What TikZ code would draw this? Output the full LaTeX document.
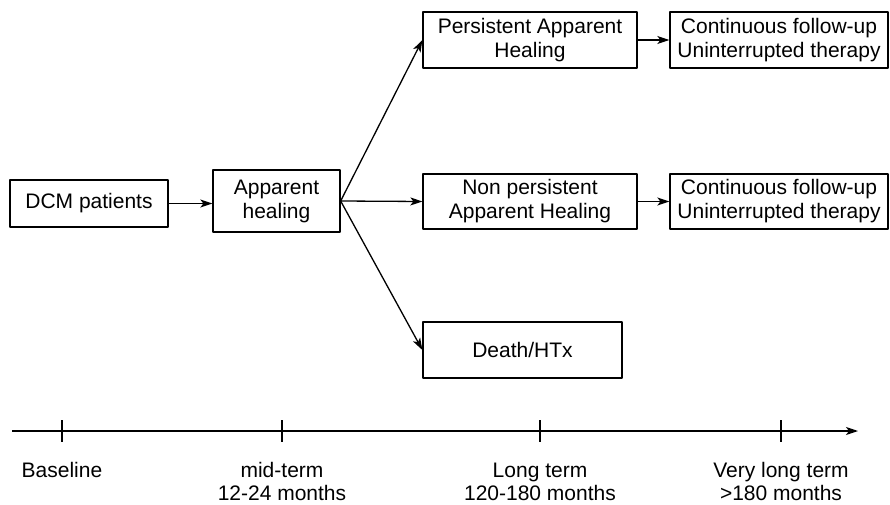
\documentclass[tikz,border=0pt]{standalone}
\usepackage{fontspec}
\setmainfont{Liberation Sans}
\usetikzlibrary{arrows.meta}
\begin{document}
\begin{tikzpicture}[x=1pt, y=-1pt, line width=1.3pt, line join=round, >={Stealth[length=12pt,width=8pt,inset=3pt]},
	font=\fontsize{21}{24}\selectfont,
	box/.style={draw, inner sep=0pt, align=center},
	tick/.style={line width=1.1pt}]
	\useasboundingbox (0,0) rectangle (890,505);
	\path
	(12,431) coordinate (A)
	(858,431) coordinate (B)
	;
	% boxes
	\node[box, minimum width=158, minimum height=47] (dcm) at (89,203.5) {DCM patients};
	\node[box, minimum width=127, minimum height=62] (heal) at (276.5,201) {Apparent\\healing};
	\node[box, minimum width=214, minimum height=56] (pers) at (530,40) {Persistent Apparent\\Healing};
	\node[box, minimum width=214, minimum height=55] (nonp) at (530,201.5) {Non persistent\\Apparent Healing};
	\node[box, minimum width=199, minimum height=56] (death) at (522.5,350) {Death/HTx};
	\node[box, minimum width=218, minimum height=56] (cont1) at (779,40) {Continuous follow-up\\Uninterrupted therapy};
	\node[box, minimum width=218, minimum height=55] (cont2) at (779,201.5) {Continuous follow-up\\Uninterrupted therapy};
	% arrows
	\draw[->] (dcm.east) -- (dcm.east -| heal.west);
	\draw[->] (heal.east) -- (pers.west);
	\draw[->] (heal.east) -- (nonp.west);
	\draw[->] (heal.east) -- (death.west);
	\draw[->] (pers.east) -- (cont1.west);
	\draw[->] (nonp.east) -- (cont2.west);
	% time axis
	\draw[->] (A) -- (B);
	\foreach \x/\name/\lbl in {62/base/Baseline\\\phantom{0}, 282/mid/mid-term\\12-24 months, 540/long/Long term\\120-180 months, 781/vlong/Very long term\\>180 months}{
		\draw[tick] (\x,420) -- (\x,442);
		\node[align=center, anchor=north, inner sep=0pt, font=\fontsize{21}{23}\selectfont] (\name) at (\x,462) {\lbl};
	}
\end{tikzpicture}
\end{document}
